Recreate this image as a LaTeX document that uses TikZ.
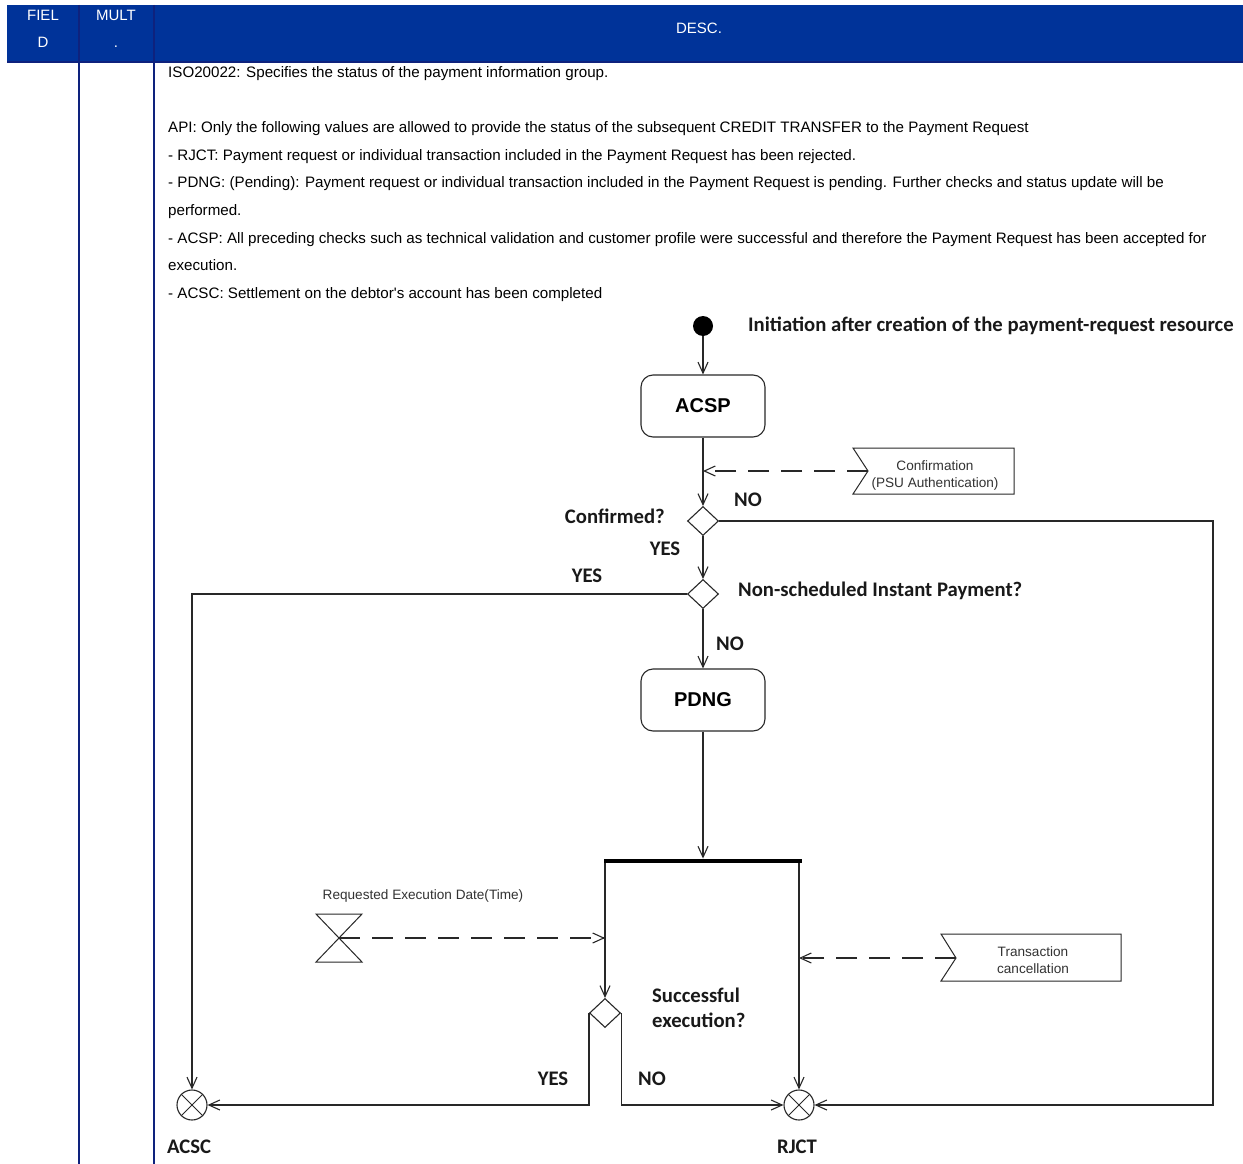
\documentclass[tikz,border=0pt]{standalone}
\usepackage{fontspec}
\setmainfont{Liberation Sans}
\newfontfamily\lblfont{Carlito}
\usetikzlibrary{arrows.meta,shapes.geometric}
\definecolor{hdrblue}{RGB}{0,51,153}
\definecolor{rulenavy}{RGB}{14,34,125}
\definecolor{ink}{RGB}{40,40,40}
\tikzset{
  body/.style={anchor=base west, font=\fontsize{15.15}{18}\selectfont, inner sep=0pt},
  hdr/.style={anchor=base, text=white, font=\fontsize{15}{18}\selectfont, inner sep=0pt},
  lbl/.style={font=\lblfont\bfseries\fontsize{20.7}{24}\selectfont, inner sep=0pt, text=black!90},
  note/.style={anchor=base, font=\fontsize{13.6}{16}\selectfont, inner sep=0pt, text=black!80},
  flow/.style={line width=1.1pt, draw=ink},
  arr/.style={flow, -{Straight Barb[length=11pt,width=10pt]}},
  darr/.style={arr, dash pattern=on 21pt off 12pt},
  statebox/.style={draw=ink, rounded corners=12pt, minimum width=124pt, minimum height=62pt,
    line width=1.1pt, font=\bfseries\fontsize{20}{24}\selectfont},
  decision/.style={diamond, draw=ink, aspect=1, minimum width=31pt, minimum height=29pt,
    inner sep=0pt, line width=1.1pt},
  final/.style={circle, draw=ink, minimum size=30pt, inner sep=0pt, line width=1.1pt},
}
\begin{document}
\begin{tikzpicture}[x=1pt,y=-1pt]
\useasboundingbox (0,0) rectangle (1243,1164);
\fill[white] (0,0) rectangle (1243,1164);

% table header and column rules
\fill[hdrblue] (7,5) rectangle (1243,62);
\draw[rulenavy, line width=2pt] (7,62) -- (1243,62);
\draw[rulenavy, line width=2pt] (79,5) -- (79,1164);
\draw[rulenavy, line width=2pt] (154,5) -- (154,1164);
\node[hdr] (h1) at (43,20.5) {FIEL};
\node[hdr] (h1b) at (43,47.5) {D};
\node[hdr] (h2) at (116,20.5) {MULT};
\node[hdr] (h2b) at (116,47.5) {.};
\node[hdr] (h3) at (699,33.5) {DESC.};

% description text
\node[body] (t1) at (168,77.4) {ISO20022: Specifies the status of the payment information group.};
\node[body] (t2) at (168,132.4) {API: Only the following values are allowed to provide the status of the subsequent CREDIT TRANSFER to the Payment Request};
\node[body] (t3) at (168,160.4) {- RJCT: Payment request or individual transaction included in the Payment Request has been rejected.};
\node[body] (t4) at (168,187.4) {- PDNG: (Pending): Payment request or individual transaction included in the Payment Request is pending. Further checks and status update will be};
\node[body] (t5) at (168,215.4) {performed.};
\node[body] (t6) at (168,243.4) {- ACSP: All preceding checks such as technical validation and customer profile were successful and therefore the Payment Request has been accepted for};
\node[body] (t7) at (168,270.4) {execution.};
\node[body] (t8) at (168,298.4) {- ACSC: Settlement on the debtor\textquotesingle s account has been completed};

% activity diagram nodes
\node[circle, fill=black, minimum size=20pt, inner sep=0pt] (start) at (703,326) {};
\node[lbl, anchor=base west] (title) at (748,331.5) {Initiation after creation of the payment-request resource};
\node[statebox] (acsp) at (703,406) {ACSP};
\node[decision] (d1) at (703,521) {};
\node[decision] (d2) at (703,594) {};
\node[statebox] (pdng) at (703,700) {PDNG};
\node[fill=black, minimum width=198pt, minimum height=4.5pt, inner sep=0pt] (bar) at (702.5,861) {};
\node[decision] (d3) at (605,1013) {};
\node[final] (acsc) at (192,1105) {};
\node[final] (rjct) at (799,1105) {};
\foreach \n in {acsc,rjct}
  \draw[flow, line width=0.9pt] (\n.north west) -- (\n.south east) (\n.north east) -- (\n.south west);

% event boxes
\draw[flow, line width=1pt] (853,448) -- (1014,448) -- (1014,494) -- (853,494) -- (868,471) -- cycle;
\coordinate (confin) at (868,471);
\node[note] (conf1) at (935,470) {Confirmation};
\node[note] (conf2) at (935,487) {(PSU Authentication)};

\draw[flow, line width=1pt] (941,934) -- (1121,934) -- (1121,981) -- (941,981) -- (956,958) -- cycle;
\coordinate (cancin) at (956,958);
\node[note] (canc1) at (1033,956) {Transaction};
\node[note] (canc2) at (1033,973) {cancellation};

% timer event
\draw[flow, line width=1pt] (316,914) -- (362,914) -- (316,962) -- (362,962) -- cycle;
\coordinate (timer) at (339,938);
\node[note] (tlabel) at (423,899) {Requested Execution Date(Time)};

% labels
\node[lbl, anchor=base east] (q1) at (665,523.5) {Confirmed?};
\node[lbl, anchor=base] (no1) at (748,506.5) {NO};
\node[lbl, anchor=base] (yes1) at (665,555.5) {YES};
\node[lbl, anchor=base] (yes2) at (587,582.5) {YES};
\node[lbl, anchor=base west] (q2) at (738,596.5) {Non-scheduled Instant Payment?};
\node[lbl, anchor=base] (no2) at (730,650.5) {NO};
\node[lbl, anchor=base west] (q3a) at (652,1002.5) {Successful};
\node[lbl, anchor=base west] (q3b) at (652,1027.5) {execution?};
\node[lbl, anchor=base] (yes3) at (553,1085.5) {YES};
\node[lbl, anchor=base] (no3) at (652,1085.5) {NO};
\node[lbl, anchor=base] (lacsc) at (189,1153.5) {ACSC};
\node[lbl, anchor=base] (lrjct) at (797,1153.5) {RJCT};

% connectors
\coordinate (rside) at (1213,0);
\draw[arr] (start) -- (acsp.north);
\draw[arr] (acsp.south) -- (d1.north);
\draw[darr] (confin) -- (confin -| acsp.south);
\draw[arr] (d1.east) -- (d1.east -| rside) |- (rjct.east);
\draw[arr] (d1.south) -- (d2.north);
\draw[arr] (d2.west) -| (acsc.north);
\draw[arr] (d2.south) -- (pdng.north);
\draw[arr] (pdng.south) -- (pdng.south |- bar.north);
\draw[arr] (d3.north |- bar.south) -- (d3.north);
\draw[arr] (rjct.north |- bar.south) -- (rjct.north);
\draw[darr] (timer) -- (timer -| d3.north);
\draw[darr] (cancin) -- (cancin -| rjct.north);
\draw[arr] (d3.west) |- (acsc.east);
\draw[arr] (d3.east) |- (rjct.west);
\end{tikzpicture}
\end{document}
